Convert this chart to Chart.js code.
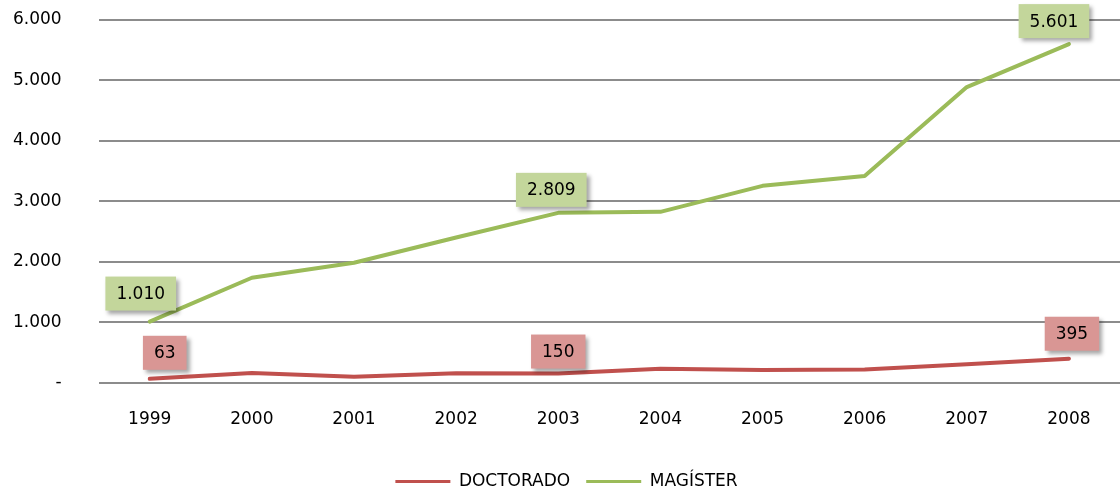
<!DOCTYPE html>
<html lang="es">
<head>
    <meta charset="UTF-8">
    <title>Doctorado y Magíster</title>
    <script src="https://cdn.jsdelivr.net/npm/chart.js@4.4.1/dist/chart.umd.min.js"></script>
    <style>
        html, body {
            margin: 0;
            padding: 0;
            background: #ffffff;
        }

        .chart-box {
            width: 1120px;
            height: 495px;
            position: relative;
        }
    </style>
</head>
<body>
    <div class="chart-box">
        <canvas id="gradChart"></canvas>
    </div>

    <script>
        // data
        const years = ['1999', '2000', '2001', '2002', '2003', '2004', '2005', '2006', '2007', '2008'];
        const doctorado = [63, 160, 95, 155, 150, 230, 210, 215, 305, 395];
        const magister = [1010, 1735, 1983, 2400, 2809, 2826, 3256, 3420, 4890, 5601];
        const labelledPoints = [0, 4, 9];

        const fontFamily = "'DejaVu Sans', sans-serif";

        // 1010 -> "1.010"
        function fmt(v) {
            return String(Math.round(v)).replace(/\B(?=(\d{3})+(?!\d))/g, '.');
        }

        // boxed value labels, offset from their point (dx, dy)
        const valueBoxes = {
            id: 'valueBoxes',
            afterDatasetsDraw(chart, args, opts) {
                const ctx = chart.ctx;
                ctx.save();
                ctx.font = '17px ' + fontFamily;
                ctx.textAlign = 'center';
                ctx.textBaseline = 'middle';
                chart.data.datasets.forEach((ds, di) => {
                    const meta = chart.getDatasetMeta(di);
                    const set = opts.sets[di];
                    labelledPoints.forEach((idx, k) => {
                        const pt = meta.data[idx];
                        const text = fmt(ds.data[idx]);
                        const w = ctx.measureText(text).width + 22;
                        const h = 34;
                        const cx = pt.x + set.offsets[k][0];
                        const cy = pt.y + set.offsets[k][1];
                        ctx.shadowColor = 'rgba(0,0,0,0.35)';
                        ctx.shadowBlur = 4;
                        ctx.shadowOffsetX = 3;
                        ctx.shadowOffsetY = 3;
                        ctx.fillStyle = set.fill;
                        ctx.fillRect(cx - w / 2, cy - h / 2, w, h);
                        ctx.shadowColor = 'transparent';
                        ctx.fillStyle = '#000000';
                        ctx.fillText(text, cx, cy + 1);
                    });
                });
                ctx.restore();
            }
        };

        const ctx = document.getElementById('gradChart').getContext('2d');
        new Chart(ctx, {
            type: 'line',
            data: {
                labels: years,
                datasets: [{
                    label: 'DOCTORADO',
                    data: doctorado,
                    borderColor: '#C0504D',
                    backgroundColor: '#C0504D',
                    borderWidth: 4,
                    borderCapStyle: 'round',
                    borderJoinStyle: 'round',
                    pointRadius: 0,
                    tension: 0
                }, {
                    label: 'MAGÍSTER',
                    data: magister,
                    borderColor: '#9BBB59',
                    backgroundColor: '#9BBB59',
                    borderWidth: 4,
                    borderCapStyle: 'round',
                    borderJoinStyle: 'round',
                    pointRadius: 0,
                    tension: 0
                }]
            },
            options: {
                responsive: true,
                maintainAspectRatio: false,
                animation: false,
                layout: {
                    padding: { top: 20, left: 9, right: -4, bottom: -5 }
                },
                plugins: {
                    tooltip: { enabled: false },
                    legend: {
                        position: 'bottom',
                        labels: {
                            color: '#000000',
                            font: { family: fontFamily, size: 17 },
                            boxWidth: 55,
                            boxHeight: 3,
                            padding: 16,
                            generateLabels(chart) {
                                return Chart.defaults.plugins.legend.labels.generateLabels(chart)
                                    .map(item => Object.assign(item, { lineWidth: 0 }));
                            }
                        }
                    },
                    valueBoxes: {
                        sets: [
                            { fill: '#D99694', offsets: [[15, -26], [0, -22], [3, -25]] },
                            { fill: '#C3D69B', offsets: [[-9, -28], [-7, -23], [-15, -23]] }
                        ]
                    }
                },
                scales: {
                    x: {
                        offset: true,
                        grid: { display: false, drawTicks: false },
                        border: { display: false },
                        ticks: {
                            color: '#000000',
                            padding: 27,
                            font: { family: fontFamily, size: 17 }
                        }
                    },
                    y: {
                        min: 0,
                        max: 6000,
                        border: { display: false },
                        grid: {
                            color: '#8c8c8c',
                            lineWidth: 2,
                            drawTicks: true,
                            tickLength: 33,
                            tickColor: 'transparent'
                        },
                        ticks: {
                            stepSize: 1000,
                            color: '#000000',
                            padding: 4,
                            font: { family: fontFamily, size: 17 },
                            callback: v => v === 0 ? '-' : fmt(v)
                        }
                    }
                }
            },
            plugins: [valueBoxes]
        });
    </script>
</body>
</html>
